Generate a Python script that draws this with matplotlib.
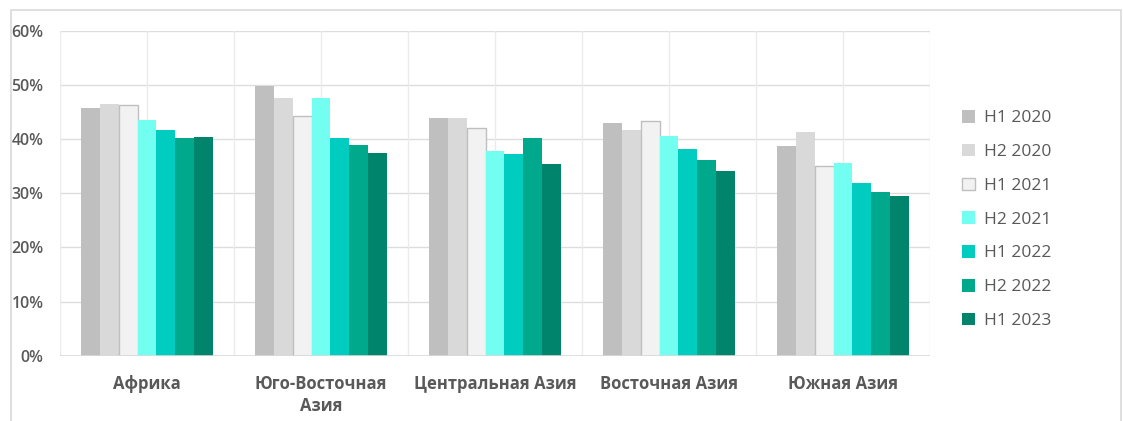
import matplotlib
matplotlib.use("Agg")
import matplotlib.pyplot as plt
import numpy as np
from matplotlib.patches import Rectangle

plt.rcParams['font.family'] = ['Open Sans', 'DejaVu Sans']

categories = ["Африка", "Юго-Восточная\nАзия", "Центральная Азия", "Восточная Азия", "Южная Азия"]
series_names = ["H1 2020", "H2 2020", "H1 2021", "H2 2021", "H1 2022", "H2 2022", "H1 2023"]
h1_2020 = [45.7, 49.8, 43.8, 42.9, 38.8]
h2_2020 = [46.4, 47.6, 43.9, 41.7, 41.3]
h1_2021 = [46.2, 44.3, 42.1, 43.3, 35.1]
h2_2021 = [43.5, 47.6, 37.8, 40.6, 35.5]
h1_2022 = [41.6, 40.1, 37.2, 38.1, 31.8]
h2_2022 = [40.2, 38.9, 40.2, 36.1, 30.2]
h1_2023 = [40.4, 37.5, 35.3, 34.1, 29.5]
series = [h1_2020, h2_2020, h1_2021, h2_2021, h1_2022, h2_2022, h1_2023]
colors = ["#BFBFBF", "#D9D9D9", "#F2F2F2", "#73FEF2", "#00CDC0", "#00A88C", "#00846C"]
edges = [None, None, "#BFBFBF", None, None, None, None]
yticks = [0, 10, 20, 30, 40, 50, 60]

fig = plt.figure(figsize=(11.23, 4.21), dpi=100)
ax = fig.add_axes([60/1123, 65.3/421, 870/1123, 325/421])

n = len(series)
bw = 0.109
x = np.arange(len(categories))
for i, (vals, c, e) in enumerate(zip(series, colors, edges)):
    off = (i - (n - 1) / 2) * bw
    if e:
        ax.bar(x + off, vals, bw, color=c, edgecolor=e, linewidth=1.0, label=series_names[i], zorder=3)
    else:
        ax.bar(x + off, vals, bw, color=c, linewidth=0, label=series_names[i], zorder=3)

ax.set_xlim(-0.5, len(categories) - 0.5)
ax.set_ylim(0, 60)
ax.set_yticks(yticks)
ax.set_yticklabels([f"{v}%" for v in yticks])
ax.set_xticks(x)
ax.set_xticklabels(categories)
for s in ax.spines.values():
    s.set_visible(False)
ax.axhline(0, color="#D9D9D9", linewidth=1.2, zorder=4)
for yv in yticks[1:]:
    ax.axhline(yv, color="#DDDDDD", linewidth=1.0, zorder=1)
for xv in np.arange(-0.5, len(categories), 0.5):
    ax.axvline(xv, color="#EBEBEB", linewidth=1.0, zorder=1)
ax.tick_params(axis='both', length=0)
ax.tick_params(axis='y', pad=12, labelsize=11.5, labelcolor="#595959")
ax.tick_params(axis='x', pad=14, labelsize=12, labelcolor="#595959")
for t in ax.get_yticklabels():
    t.set_fontweight('semibold')
for t in ax.get_xticklabels():
    t.set_fontweight('bold')
    t.set_linespacing(1.3)

leg = fig.legend(loc='center left', bbox_to_anchor=(962/1123, 1 - 219.5/421), frameon=False,
                 fontsize=12.5, handlelength=0.75, handleheight=0.75, handletextpad=0.5,
                 labelspacing=1.0, borderpad=0, borderaxespad=0, labelcolor="#595959")

fig.patches.append(Rectangle((10.5/1123, -0.05), (1121-10.5)/1123, 1.05 - 10/421,
                             transform=fig.transFigure, fill=False, edgecolor="#D9D9D9", linewidth=1.2))

fig.savefig("out.png", dpi=100)
